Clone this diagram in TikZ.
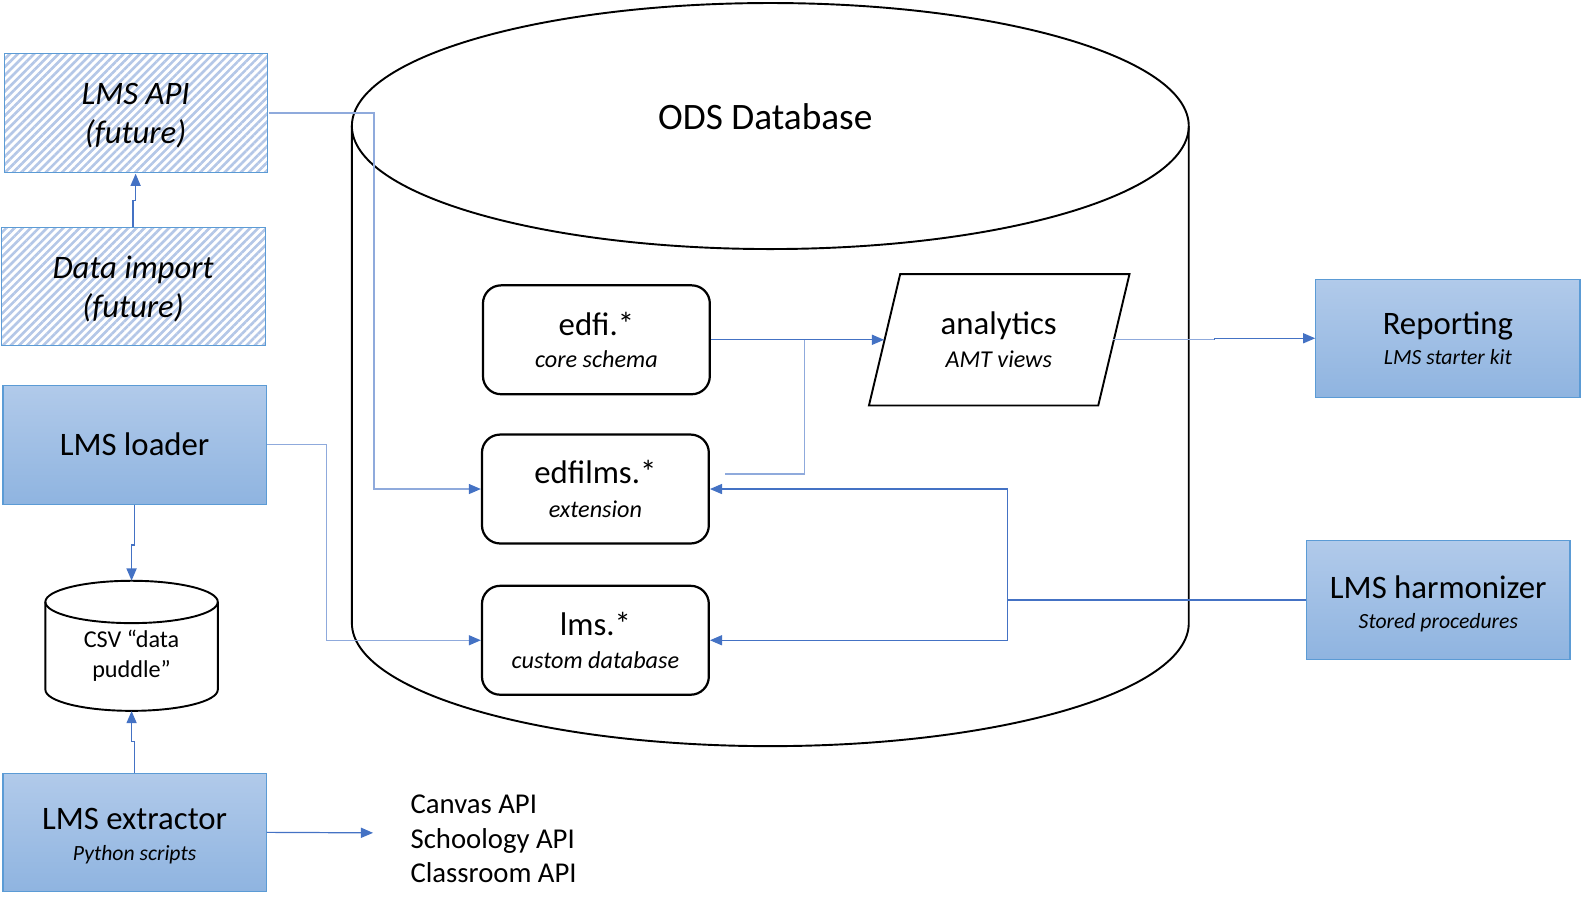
\documentclass[tikz,border=0pt]{standalone}
\usepackage{fontspec}
\setmainfont{Carlito}
\usetikzlibrary{arrows.meta,patterns.meta,calc}
\definecolor{cdark}{RGB}{68,114,196}
\definecolor{clight}{RGB}{143,170,220}
\definecolor{bborder}{RGB}{91,155,213}
\definecolor{gtop}{RGB}{177,202,234}
\definecolor{gbot}{RGB}{143,180,224}
\definecolor{hatchc}{RGB}{180,199,231}
\newcommand\ttlfont{\fontsize{32.5}{30}\selectfont}
\newcommand\subA{\fontsize{24}{24}\selectfont\itshape}
\newcommand\subB{\fontsize{21.5}{21.5}\selectfont\itshape}
\begin{document}
\begin{tikzpicture}[x=1pt,y=-1pt,
  bluebox/.style={draw=bborder, line width=1.2pt, top color=gtop, bottom color=gbot, minimum width=261pt, minimum height=118pt, align=center, inner sep=0pt, font=\ttlfont},
  hatchbox/.style={draw=bborder, line width=1pt, pattern={Lines[angle=45,distance=5.7pt,line width=2.6pt]}, pattern color=hatchc, minimum width=261pt, minimum height=118pt, align=center, inner sep=0pt, font=\itshape\fontsize{32.5}{39}\selectfont},
  dbbox/.style={draw=black, line width=2.2pt, rounded corners=18pt, fill=white, minimum width=225pt, minimum height=108pt, align=center, inner sep=0pt, font=\ttlfont},
  conn/.style={draw=cdark, line width=1.2pt},
  connl/.style={draw=clight, line width=1.2pt},
  endarrow/.style={-{Triangle[length=12pt,width=10pt,color=cdark]}},
  outline/.style={draw=black, line width=1.9pt},
]
\useasboundingbox (0,0) rectangle (1568,901.5);

% big ODS cylinder
\draw[outline] (349,125) -- (349,618) arc[start angle=180,end angle=0,x radius=415,y radius=122] -- (1179,125);
\draw[outline] (764,125) ellipse[x radius=415,y radius=122];
\node[font=\fontsize{37}{37}\selectfont] (ods) at (759,116) {ODS Database};

% CSV cylinder
\node[minimum width=171pt, minimum height=129pt, inner sep=0pt] (csv) at (130.5,640.5) {};
\draw[outline] (45,597) -- (45,684) arc[start angle=180,end angle=0,x radius=85.5,y radius=21] -- (216,597);
\draw[outline] (130.5,597) ellipse[x radius=85.5,y radius=21];
\node[align=center, inner sep=0pt, font=\fontsize{24}{30}\selectfont] (csvtxt) at (130.5,650) {CSV “data\\puddle”};

% left boxes
\node[hatchbox] (lmsapi) at (134.5,112) {\rule{0pt}{27pt}LMS API\\(future)};
\node[hatchbox, minimum width=262pt, minimum height=117pt] (datain) at (132,284.5) {\rule{0pt}{27pt}Data import\\(future)};
\node[bluebox] (loader) at (133.5,441) {LMS loader};
\node[bluebox, minimum height=117pt] (ext) at (133.5,825.5) {\rule{0pt}{28.5pt}LMS extractor\\[0pt]{\subB Python scripts}};

% right boxes
\node[bluebox, minimum width=262pt, minimum height=117pt] (rep) at (1436,335.5) {Reporting\\[-1pt]{\subB LMS starter kit}};
\node[bluebox] (harm) at (1426.5,595) {\rule{0pt}{30.5pt}LMS harmonizer\\[0pt]{\subB Stored procedures}};

% schema boxes
\node[dbbox] (edfi) at (591.5,337) {edfi.*\\[2pt]{\subA core schema}};
\node[dbbox] (edfilms) at (590.5,485) {edfilms.*\\[3pt]{\subA extension}};
\node[dbbox] (lms) at (590.5,635) {lms.*\\[3pt]{\subA custom database}};

% analytics parallelogram
\node[minimum width=227pt, minimum height=130pt, inner sep=0pt, align=center, font=\ttlfont] (ana) at (990.5,337) {analytics\\[3pt]{\subA AMT views}};
\draw[outline] ($(ana.north west)+(16,0)$) -- ($(ana.north east)+(16,0)$) -- ($(ana.south east)+(-15,0)$) -- ($(ana.south west)+(-15,0)$) -- cycle;

% API list
\node[align=left, anchor=west, inner sep=0pt, font=\fontsize{28.5}{34.5}\selectfont] (apis) at (407,832) {Canvas API\\Schoology API\\Classroom API};

% connectors
\draw[connl, endarrow] (lmsapi.east) -| ($(edfilms.west)+(-106,0)$) -- (edfilms.west);
\draw[connl, endarrow] (loader.east) -| ($(lms.west)+(-153,0)$) -- (lms.west);
\draw[conn, endarrow] (edfi.east) -- (ana.west);
\coordinate (efout) at ($(edfilms.east)+(15,-15)$);
\draw[connl] (efout) -| ($(edfi.east)!0.54!(ana.west)$);
\draw[connl] (ana.east) -- ++(100,0) coordinate (rj);
\draw[conn, endarrow] (rj) |- (rep.west);
\coordinate (hj) at ($(harm.west)+(-296,0)$);
\draw[conn, endarrow] (harm.west) -- (hj) |- (edfilms.east);
\draw[conn, endarrow] (hj) |- (lms.east);
\draw[conn, endarrow] (datain.north) -- ++(0,-27) -| (lmsapi.south);
\draw[conn, endarrow] (loader.south) -- ++(0,40) -| (csv.north);
\draw[conn, endarrow] (ext.north) -- ++(0,-31) -| (csv.south);
\draw[conn, endarrow] (ext.east) -- ($(apis.west)+(-37,-6)$);
\end{tikzpicture}
\end{document}
